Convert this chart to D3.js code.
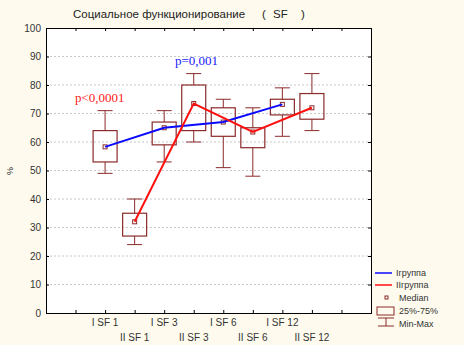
<!DOCTYPE html>
<html>
<head>
<meta charset="utf-8">
<script src="https://cdn.jsdelivr.net/npm/d3@7"></script>
<style>
  body { margin: 0; background: #fefbee; }
  svg { display: block; font-family: Arial, "Liberation Sans", sans-serif; }
</style>
</head>
<body>
<div id="chart"></div>
<script>
const categories = ["I SF 1", "II SF 1", "I SF 3", "II SF 3", "I SF 6", "II SF 6", "I SF 12", "II SF 12"];
const mins    = [49, 24, 53, 60, 51, 48, 62, 64];
const q1      = [53, 27, 59, 64, 62, 58, 69.5, 68];
const medians = [58.3, 32, 65, 73.5, 67, 63.5, 73.2, 72];
const q3      = [64, 35, 67, 80, 72, 65, 75, 77];
const maxs    = [71, 40, 71, 84, 75, 72, 79, 84];
const yTicks  = [0, 10, 20, 30, 40, 50, 60, 70, 80, 90, 100];

const width = 464, height = 345;
const plot = { left: 46, right: 371, top: 28, bottom: 313 };

const svg = d3.select("#chart")
  .append("svg")
    .attr("width", width)
    .attr("height", height);

svg.append("rect")
  .attr("width", width).attr("height", height)
  .attr("fill", "#fefbee");

// category i sits at slot i+2, ticks at 1..10
const x = d3.scaleLinear().domain([0, 11]).range([plot.left, plot.right]);
const y = d3.scaleLinear().domain([0, 100]).range([plot.bottom, plot.top]);
const xc = i => x(i + 2);

svg.append("rect")
  .attr("x", plot.left).attr("y", plot.top)
  .attr("width", plot.right - plot.left).attr("height", plot.bottom - plot.top)
  .attr("fill", "#ffffff");

// grid
svg.append("g")
  .selectAll("line")
  .data(yTicks.slice(1, -1))
  .enter().append("line")
    .attr("x1", plot.left).attr("x2", plot.right)
    .attr("y1", d => y(d)).attr("y2", d => y(d))
    .attr("stroke", "#c8c8c8")
    .attr("stroke-dasharray", "2,2");

const allTicks = d3.range(1, 11);

// axes
const yAxis = svg.append("g")
  .attr("transform", `translate(${plot.left},0)`)
  .call(d3.axisLeft(y).tickValues(yTicks).tickSize(-3).tickPadding(5));
yAxis.selectAll("text").attr("font-size", 10).attr("fill", "#333");

svg.append("g")
  .attr("transform", `translate(${plot.right},0)`)
  .call(d3.axisRight(y).tickValues(yTicks).tickSize(-3).tickFormat(""));

svg.append("g")
  .attr("transform", `translate(0,${plot.top})`)
  .call(d3.axisTop(x).tickValues(allTicks).tickSize(-3).tickFormat(""));

svg.append("g")
  .attr("transform", `translate(0,${plot.bottom})`)
  .call(d3.axisBottom(x).tickValues(allTicks).tickSize(-3).tickFormat(""));

svg.selectAll(".domain").attr("stroke", "#000");
svg.selectAll(".tick line").attr("stroke", "#000");

// category labels on two rows
svg.append("g")
  .selectAll("text")
  .data(categories)
  .enter().append("text")
    .attr("x", (d, i) => xc(i))
    .attr("y", (d, i) => i % 2 === 0 ? 326 : 341)
    .attr("text-anchor", "middle")
    .attr("font-size", 10)
    .attr("fill", "#333")
    .text(d => d);

const boxColor = "#8b2a2a";
const boxW = 24, capW = 15;

const boxes = svg.append("g")
  .selectAll("g")
  .data(categories)
  .enter().append("g");

boxes.append("line")
  .attr("x1", (d, i) => xc(i)).attr("x2", (d, i) => xc(i))
  .attr("y1", (d, i) => y(maxs[i])).attr("y2", (d, i) => y(q3[i]))
  .attr("stroke", boxColor);
boxes.append("line")
  .attr("x1", (d, i) => xc(i)).attr("x2", (d, i) => xc(i))
  .attr("y1", (d, i) => y(q1[i])).attr("y2", (d, i) => y(mins[i]))
  .attr("stroke", boxColor);
boxes.append("line")
  .attr("x1", (d, i) => xc(i) - capW / 2).attr("x2", (d, i) => xc(i) + capW / 2)
  .attr("y1", (d, i) => y(maxs[i])).attr("y2", (d, i) => y(maxs[i]))
  .attr("stroke", boxColor);
boxes.append("line")
  .attr("x1", (d, i) => xc(i) - capW / 2).attr("x2", (d, i) => xc(i) + capW / 2)
  .attr("y1", (d, i) => y(mins[i])).attr("y2", (d, i) => y(mins[i]))
  .attr("stroke", boxColor);
boxes.append("rect")
  .attr("x", (d, i) => xc(i) - boxW / 2)
  .attr("y", (d, i) => y(q3[i]))
  .attr("width", boxW)
  .attr("height", (d, i) => y(q1[i]) - y(q3[i]))
  .attr("fill", "none")
  .attr("stroke", boxColor)
  .attr("stroke-width", 1.2);
boxes.append("rect")
  .attr("x", (d, i) => xc(i) - 2)
  .attr("y", (d, i) => y(medians[i]) - 2)
  .attr("width", 4).attr("height", 4)
  .attr("fill", "#fff")
  .attr("stroke", boxColor);

// median lines for each group
const line = d3.line()
  .x(d => xc(d))
  .y(d => y(medians[d]));

svg.append("path")
  .datum([0, 2, 4, 6])
  .attr("fill", "none")
  .attr("stroke", "#0a0aff")
  .attr("stroke-width", 2)
  .attr("d", line);

svg.append("path")
  .datum([1, 3, 5, 7])
  .attr("fill", "none")
  .attr("stroke", "#ff1010")
  .attr("stroke-width", 2)
  .attr("d", line);

// p-values
svg.append("text")
  .attr("x", 75).attr("y", 102)
  .attr("font-family", "'Liberation Serif', 'Times New Roman', serif")
  .attr("font-size", 13)
  .attr("fill", "#ff2020")
  .text("p<0,0001");

svg.append("text")
  .attr("x", 175).attr("y", 65)
  .attr("font-family", "'Liberation Serif', 'Times New Roman', serif")
  .attr("font-size", 13)
  .attr("fill", "#2020ff")
  .text("p=0,001");

// title and y label
const title = svg.append("g").attr("font-size", 11.5).attr("fill", "#222");
title.append("text").attr("x", 73).attr("y", 18).text("Социальное функционирование");
title.append("text").attr("x", 262).attr("y", 18).text("(");
title.append("text").attr("x", 273).attr("y", 18).text("SF");
title.append("text").attr("x", 301).attr("y", 18).text(")");

svg.append("text")
  .attr("transform", "translate(13,171) rotate(-90)")
  .attr("text-anchor", "middle")
  .attr("font-size", 9)
  .attr("fill", "#222")
  .text("%");

// legend
const legend = svg.append("g").attr("font-size", 9).attr("fill", "#333");
legend.append("line").attr("x1", 375).attr("x2", 392).attr("y1", 273).attr("y2", 273)
  .attr("stroke", "#0a0aff").attr("stroke-width", 1.5);
legend.append("text").attr("x", 396).attr("y", 276).text("Iгруппа");
legend.append("line").attr("x1", 375).attr("x2", 392).attr("y1", 285).attr("y2", 285)
  .attr("stroke", "#ff1010").attr("stroke-width", 1.5);
legend.append("text").attr("x", 396).attr("y", 288).text("IIгруппа");
legend.append("rect").attr("x", 385).attr("y", 296).attr("width", 3).attr("height", 3)
  .attr("fill", "none").attr("stroke", boxColor);
legend.append("text").attr("x", 399).attr("y", 301).text("Median");
legend.append("rect").attr("x", 377).attr("y", 307).attr("width", 17).attr("height", 8)
  .attr("fill", "none").attr("stroke", boxColor);
legend.append("text").attr("x", 399).attr("y", 314).text("25%-75%");
legend.append("line").attr("x1", 378).attr("x2", 394).attr("y1", 318).attr("y2", 318)
  .attr("stroke", boxColor);
legend.append("line").attr("x1", 386).attr("x2", 386).attr("y1", 318).attr("y2", 326)
  .attr("stroke", boxColor);
legend.append("line").attr("x1", 378).attr("x2", 394).attr("y1", 326).attr("y2", 326)
  .attr("stroke", boxColor);
legend.append("text").attr("x", 399).attr("y", 327).text("Min-Max");
</script>
</body>
</html>
